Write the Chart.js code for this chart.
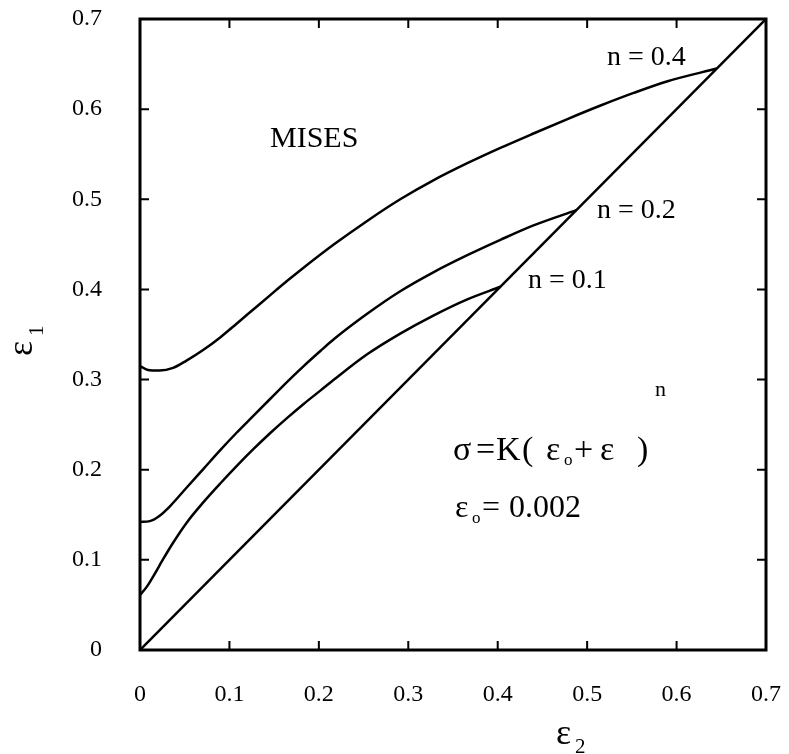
<!DOCTYPE html>
<html><head><meta charset="utf-8">
<style>html,body{margin:0;padding:0;background:#fff;}canvas{display:block;}</style>
<script src="https://cdn.jsdelivr.net/npm/chart.js@4.4.0/dist/chart.umd.min.js"></script>
</head><body>
<canvas id="c" width="789" height="754"></canvas>
<script>
// ---- data ----
const tickValues = [0, 0.1, 0.2, 0.3, 0.4, 0.5, 0.6, 0.7];
const tickLabels = ['0', '0.1', '0.2', '0.3', '0.4', '0.5', '0.6', '0.7'];

const n04X = [0, 0.008, 0.022, 0.037, 0.052, 0.071, 0.090, 0.108, 0.127, 0.146, 0.164, 0.179, 0.217, 0.254, 0.291, 0.328, 0.366, 0.403, 0.440, 0.478, 0.515, 0.552, 0.590, 0.645];
const n04Y = [0.315, 0.311, 0.310, 0.313, 0.321, 0.333, 0.347, 0.362, 0.378, 0.394, 0.409, 0.421, 0.450, 0.476, 0.500, 0.521, 0.540, 0.557, 0.573, 0.589, 0.604, 0.618, 0.631, 0.645];

const n02X = [0, 0.011, 0.022, 0.034, 0.052, 0.071, 0.090, 0.108, 0.127, 0.146, 0.164, 0.183, 0.202, 0.217, 0.254, 0.291, 0.328, 0.366, 0.403, 0.440, 0.488];
const n02Y = [0.142, 0.143, 0.149, 0.160, 0.180, 0.201, 0.222, 0.241, 0.260, 0.279, 0.297, 0.315, 0.332, 0.345, 0.373, 0.398, 0.419, 0.438, 0.455, 0.471, 0.488];

const n01X = [0, 0.0075, 0.015, 0.026, 0.037, 0.052, 0.071, 0.090, 0.108, 0.127, 0.146, 0.164, 0.183, 0.202, 0.217, 0.254, 0.291, 0.328, 0.366, 0.403];
const n01Y = [0.061, 0.070, 0.082, 0.101, 0.119, 0.141, 0.164, 0.185, 0.204, 0.223, 0.241, 0.257, 0.273, 0.288, 0.300, 0.328, 0.351, 0.371, 0.389, 0.403];

const diagX = [0, 0.7];
const diagY = [0, 0.7];

const seriesLabels = ['n = 0.4', 'n = 0.2', 'n = 0.1', 'ε1 = ε2'];

// ---- helpers ----
const pts = (xs, ys) => xs.map((x, i) => ({x: x, y: ys[i]}));
const SERIF = '"Liberation Serif", "DejaVu Serif", serif';

const lineStyle = {
  borderColor: '#000', borderWidth: 2.5, pointRadius: 0, showLine: true,
  fill: false, cubicInterpolationMode: 'monotone'
};

const decor = {
  id: 'decor',
  afterDatasetsDraw(chart) {
    const ctx = chart.ctx;
    const a = chart.chartArea;
    const xs = chart.scales.x, ys = chart.scales.y;
    ctx.save();
    ctx.strokeStyle = '#000';
    ctx.fillStyle = '#000';
    // frame
    ctx.lineWidth = 3;
    ctx.strokeRect(a.left, a.top, a.right - a.left, a.bottom - a.top);
    ctx.lineWidth = 2;
    // inward ticks
    const L = 9;
    tickValues.slice(1, -1).forEach(v => {
      const px = xs.getPixelForValue(v), py = ys.getPixelForValue(v);
      ctx.beginPath();
      ctx.moveTo(px, a.bottom); ctx.lineTo(px, a.bottom - L);
      ctx.moveTo(px, a.top); ctx.lineTo(px, a.top + L);
      ctx.moveTo(a.left, py); ctx.lineTo(a.left + L, py);
      ctx.moveTo(a.right, py); ctx.lineTo(a.right - L, py);
      ctx.stroke();
    });

    // annotations
    ctx.textBaseline = 'alphabetic';
    ctx.textAlign = 'left';
    ctx.font = '30px ' + SERIF;
    ctx.fillText('MISES', 270, 147);

    ctx.font = '28px ' + SERIF;
    ctx.fillText(seriesLabels[0], 607, 65);
    ctx.fillText(seriesLabels[1], 597, 218);
    ctx.fillText(seriesLabels[2], 528, 288);

    // formula  σ =K( εo+ ε )^n
    ctx.font = '34px ' + SERIF;
    ctx.fillText('σ', 453, 460);
    ctx.fillText('=', 476, 460);
    ctx.fillText('K', 496, 460);
    ctx.fillText('(', 522, 460);
    ctx.fillText('ε', 546, 460);
    ctx.fillText('+', 574, 460);
    ctx.fillText('ε', 600, 460);
    ctx.fillText(')', 637, 460);
    ctx.font = '17px ' + SERIF;
    ctx.fillText('o', 564, 465);
    ctx.font = '22px ' + SERIF;
    ctx.fillText('n', 655, 396);

    // εo = 0.002
    ctx.font = '32px ' + SERIF;
    ctx.fillText('ε', 455, 517);
    ctx.fillText('=', 482, 517);
    ctx.fillText('0.002', 509, 517);
    ctx.font = '17px ' + SERIF;
    ctx.fillText('o', 472, 523);

    // axis titles
    ctx.font = '36px ' + SERIF;
    ctx.fillText('ε', 556, 744);
    ctx.font = '21px ' + SERIF;
    ctx.fillText('2', 575, 753);

    ctx.save();
    ctx.translate(32, 356);
    ctx.rotate(-Math.PI / 2);
    ctx.font = '36px ' + SERIF;
    ctx.fillText('ε', 0, 0);
    ctx.font = '21px ' + SERIF;
    ctx.fillText('1', 20, 11);
    ctx.restore();

    ctx.restore();
  }
};

const tickCfg = {
  font: {family: SERIF, size: 24},
  color: '#000',
  autoSkip: false,
  maxRotation: 0,
  callback: (v) => {
    const i = tickValues.findIndex(t => Math.abs(t - v) < 1e-9);
    return i >= 0 ? tickLabels[i] : '';
  }
};

new Chart(document.getElementById('c'), {
  type: 'scatter',
  data: {
    datasets: [
      Object.assign({label: seriesLabels[0], data: pts(n04X, n04Y)}, lineStyle),
      Object.assign({label: seriesLabels[1], data: pts(n02X, n02Y)}, lineStyle),
      Object.assign({label: seriesLabels[2], data: pts(n01X, n01Y)}, lineStyle),
      Object.assign({label: seriesLabels[3], data: pts(diagX, diagY)}, lineStyle, {cubicInterpolationMode: 'default', tension: 0})
    ]
  },
  options: {
    responsive: false,
    animation: false,
    events: [],
    layout: {padding: {left: 0, right: 23, top: 19, bottom: 0}},
    plugins: {legend: {display: false}, tooltip: {enabled: false}},
    scales: {
      x: {
        type: 'linear', min: 0, max: 0.7,
        grid: {display: false, drawTicks: false},
        border: {display: false},
        afterBuildTicks: (s) => { s.ticks = tickValues.map(v => ({value: v})); },
        afterFit: (s) => { s.height = 104; s.paddingLeft = 0; s.paddingRight = 0; s.paddingTop = 0; s.paddingBottom = 0; },
        ticks: Object.assign({}, tickCfg, {padding: 30})
      },
      y: {
        type: 'linear', min: 0, max: 0.7,
        grid: {display: false, drawTicks: false},
        border: {display: false},
        afterBuildTicks: (s) => { s.ticks = tickValues.map(v => ({value: v})); },
        afterFit: (s) => { s.width = 140; s.paddingLeft = 0; s.paddingRight = 0; s.paddingTop = 0; s.paddingBottom = 0; },
        ticks: Object.assign({}, tickCfg, {padding: 38})
      }
    }
  },
  plugins: [decor]
});
</script>
</body></html>
